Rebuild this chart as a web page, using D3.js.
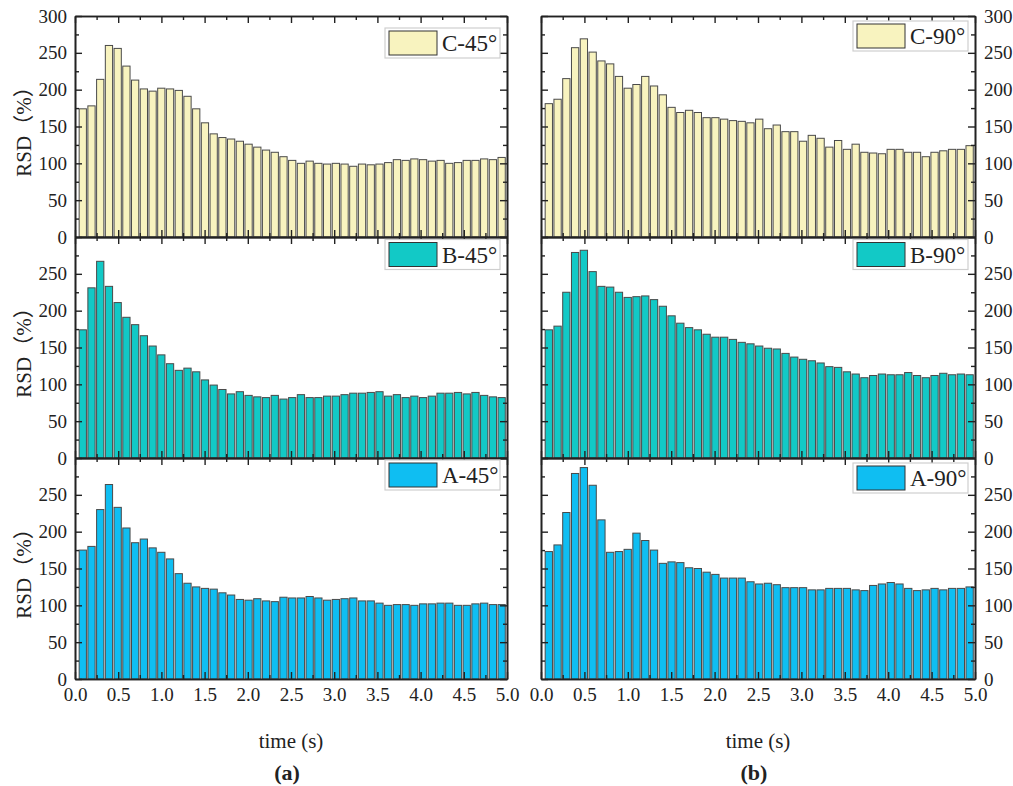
<!DOCTYPE html>
<html>
<head>
<meta charset="utf-8">
<script src="https://cdn.jsdelivr.net/npm/d3@7"></script>
<style>
  body { margin: 0; background: #fff; }
  text { font-family: "Liberation Serif", "Times New Roman", serif; fill: #222; }
</style>
</head>
<body>
<div id="chart"></div>
<script>
// sample times (s), one bar each
var times = [0.090, 0.191, 0.292, 0.393, 0.494, 0.595, 0.696, 0.797, 0.898, 0.999,
             1.100, 1.201, 1.302, 1.403, 1.504, 1.605, 1.706, 1.807, 1.908, 2.009,
             2.110, 2.211, 2.312, 2.413, 2.514, 2.615, 2.716, 2.817, 2.918, 3.019,
             3.120, 3.221, 3.322, 3.423, 3.524, 3.625, 3.726, 3.827, 3.928, 4.029,
             4.130, 4.231, 4.332, 4.433, 4.534, 4.635, 4.736, 4.837, 4.938];

// RSD (%) per panel
var c45 = [174, 178, 214, 260, 256, 232, 213, 201, 198, 202,
           201, 199, 191, 174, 155, 140, 135, 133, 130, 126,
           122, 118, 115, 109, 104, 100, 103, 100, 99, 100,
           99, 96, 99, 98, 99, 101, 105, 104, 106, 105,
           103, 104, 100, 101, 104, 104, 106, 105, 108];
var b45 = [174, 231, 267, 233, 211, 191, 181, 166, 152, 140,
           128, 119, 122, 117, 106, 99, 93, 87, 90, 85,
           83, 82, 85, 80, 82, 86, 82, 82, 84, 84,
           86, 88, 88, 89, 90, 84, 86, 82, 84, 82,
           84, 88, 88, 89, 87, 89, 85, 83, 82];
var a45 = [175, 180, 230, 264, 233, 205, 185, 190, 178, 172,
           163, 143, 130, 125, 123, 122, 117, 114, 108, 107,
           109, 106, 105, 111, 110, 110, 112, 110, 107, 108,
           109, 110, 106, 106, 103, 100, 101, 101, 100, 102,
           102, 103, 103, 100, 100, 102, 103, 101, 101];
var c90 = [181, 187, 215, 257, 269, 251, 239, 235, 218, 202,
           207, 218, 205, 193, 176, 169, 172, 169, 162, 162,
           160, 158, 157, 155, 160, 147, 152, 143, 143, 130,
           138, 134, 122, 131, 119, 126, 115, 114, 113, 119,
           119, 115, 115, 109, 115, 117, 119, 119, 124];
var b90 = [174, 179, 225, 279, 282, 253, 233, 232, 225, 218,
           219, 220, 215, 206, 193, 183, 177, 174, 168, 164,
           164, 161, 157, 155, 152, 149, 148, 142, 137, 134,
           132, 129, 124, 123, 117, 114, 109, 112, 114, 113,
           113, 116, 112, 109, 112, 115, 113, 114, 113];
var a90 = [173, 182, 226, 279, 287, 263, 216, 172, 173, 176,
           198, 188, 175, 157, 159, 158, 151, 150, 145, 142,
           137, 137, 137, 132, 129, 130, 128, 124, 124, 124,
           121, 121, 123, 123, 123, 121, 120, 127, 129, 131,
           129, 123, 120, 121, 123, 121, 123, 123, 125];

var yMajor = [0, 50, 100, 150, 200, 250, 300];
var yMinor = [25, 75, 125, 175, 225, 275];
var xMajor = [0, 0.5, 1.0, 1.5, 2.0, 2.5, 3.0, 3.5, 4.0, 4.5, 5.0];
var xMinor = [0.25, 0.75, 1.25, 1.75, 2.25, 2.75, 3.25, 3.75, 4.25, 4.75];
var seriesNames = ["C-45°", "B-45°", "A-45°", "C-90°", "B-90°", "A-90°"];
var panelTags = ["(a)", "(b)"];

// layout
var svg = d3.select("#chart").append("svg")
  .attr("width", 1013)
  .attr("height", 786);

var cols = [{x0: 75, x1: 507}, {x0: 541, x1: 975}];
var top0 = 16, ph = 221;
var barW = 0.084;
var fills = ["#F8F3BF", "#12C9C6", "#0FBEF2"];
var legTop = [[12, 2.5, 2], [5, 2.5, 5]];

var panels = [
  {col: 0, row: 0, values: c45, name: seriesNames[0]},
  {col: 0, row: 1, values: b45, name: seriesNames[1]},
  {col: 0, row: 2, values: a45, name: seriesNames[2]},
  {col: 1, row: 0, values: c90, name: seriesNames[3]},
  {col: 1, row: 1, values: b90, name: seriesNames[4]},
  {col: 1, row: 2, values: a90, name: seriesNames[5]}
];

function styleAxis(g) {
  g.select(".domain").attr("stroke", "#222").attr("stroke-width", 1.6);
  g.selectAll(".tick line").attr("stroke", "#222").attr("stroke-width", 1.4);
  g.selectAll(".tick text").style("font-size", "19px").attr("fill", "#222");
}

panels.forEach(function(p) {
  var c = cols[p.col];
  var yTop = top0 + p.row * ph;
  var x = d3.scaleLinear().domain([0, 5]).range([c.x0, c.x1]);
  var y = d3.scaleLinear().domain([0, 300]).range([yTop + ph, yTop]);
  var g = svg.append("g");

  // bars
  g.selectAll("rect.bar")
    .data(times.map(function(t, i) { return {t: t, v: p.values[i]}; }))
    .enter()
    .append("rect")
    .attr("class", "bar")
    .attr("x", function(d) { return x(d.t - barW / 2); })
    .attr("width", x(barW) - x(0))
    .attr("y", function(d) { return y(d.v); })
    .attr("height", function(d) { return y(0) - y(d.v); })
    .attr("fill", fills[p.row])
    .attr("stroke", "#4a4a4a")
    .attr("stroke-width", 1);

  var labelTicks = p.row == 0 ? yMajor : yMajor.slice(0, 6);

  // y axes, ticks inward
  var leftMaj = d3.axisLeft(y).tickValues(p.col == 0 ? labelTicks : yMajor).tickSize(-7).tickSizeOuter(0).tickPadding(8);
  var rightMaj = d3.axisRight(y).tickValues(p.col == 1 ? labelTicks : yMajor).tickSize(-7).tickSizeOuter(0).tickPadding(9);
  if (p.col == 1) leftMaj.tickFormat("");
  if (p.col == 0) rightMaj.tickFormat("");

  g.append("g").attr("transform", `translate(${c.x0},0)`).call(leftMaj).call(styleAxis);
  g.append("g").attr("transform", `translate(${c.x0},0)`)
    .call(d3.axisLeft(y).tickValues(yMinor).tickSize(-4).tickSizeOuter(0).tickFormat("")).call(styleAxis);
  g.append("g").attr("transform", `translate(${c.x1},0)`).call(rightMaj).call(styleAxis);
  g.append("g").attr("transform", `translate(${c.x1},0)`)
    .call(d3.axisRight(y).tickValues(yMinor).tickSize(-4).tickSizeOuter(0).tickFormat("")).call(styleAxis);

  // x axes, ticks inward
  var bottomMaj = d3.axisBottom(x).tickValues(xMajor).tickSize(-7).tickSizeOuter(0).tickPadding(9)
    .tickFormat(d3.format(".1f"));
  if (p.row != 2) bottomMaj.tickFormat("");
  g.append("g").attr("transform", `translate(0,${yTop + ph})`).call(bottomMaj).call(styleAxis);
  g.append("g").attr("transform", `translate(0,${yTop + ph})`)
    .call(d3.axisBottom(x).tickValues(xMinor).tickSize(-4).tickSizeOuter(0).tickFormat("")).call(styleAxis);
  g.append("g").attr("transform", `translate(0,${yTop})`)
    .call(d3.axisTop(x).tickValues(xMajor).tickSize(-7).tickSizeOuter(0).tickFormat("")).call(styleAxis);
  g.append("g").attr("transform", `translate(0,${yTop})`)
    .call(d3.axisTop(x).tickValues(xMinor).tickSize(-4).tickSizeOuter(0).tickFormat("")).call(styleAxis);

  // legend
  var lw = 115, lh = 30;
  var lx = c.x1 - 7 - lw, ly = yTop + legTop[p.col][p.row];
  g.append("rect")
    .attr("x", lx).attr("y", ly).attr("width", lw).attr("height", lh)
    .attr("fill", "#fff").attr("stroke", "#cfcfcf").attr("stroke-width", 1.2);
  g.append("rect")
    .attr("x", lx + 4).attr("y", ly + 3).attr("width", 48).attr("height", 24)
    .attr("fill", fills[p.row]).attr("stroke", "#333").attr("stroke-width", 1);
  g.append("text")
    .attr("x", lx + 57).attr("y", ly + 23)
    .style("font-size", "23px")
    .text(p.name);

  // y title
  if (p.col == 0) {
    g.append("text")
      .attr("transform", `translate(31, ${yTop + ph / 2}) rotate(-90)`)
      .attr("text-anchor", "middle")
      .style("font-size", "21px")
      .style("font-family", "'Liberation Serif', 'Noto Sans CJK SC', serif")
      .text("RSD（%）");
  }
});

// x titles and panel tags
cols.forEach(function(c, i) {
  var cx = (c.x0 + c.x1) / 2;
  svg.append("text")
    .attr("x", cx).attr("y", 748)
    .attr("text-anchor", "middle")
    .style("font-size", "21px")
    .text("time (s)");
  svg.append("text")
    .attr("x", cx - 4).attr("y", 780)
    .attr("text-anchor", "middle")
    .style("font-size", "22px")
    .style("font-weight", "bold")
    .text(panelTags[i]);
});
</script>
</body>
</html>
